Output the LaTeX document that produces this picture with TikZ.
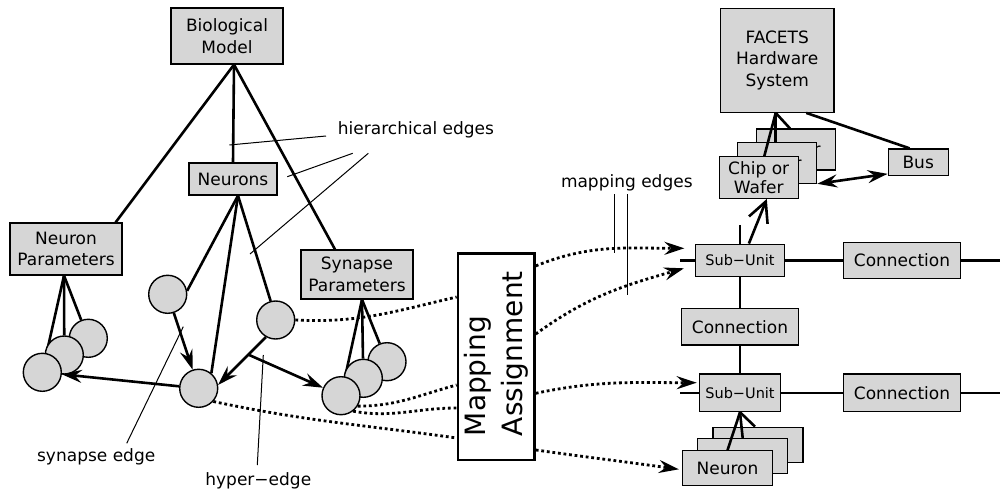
\documentclass[tikz,border=0pt]{standalone}
\usepackage{fontspec}
\setmainfont{DejaVu Sans}
\usetikzlibrary{arrows.meta,calc}
\pgfdeclarelayer{under}
\pgfsetlayers{under,main}
\definecolor{boxgray}{RGB}{214,214,214}
\begin{document}
\begin{tikzpicture}[x=1pt,y=1pt,
  box/.style={draw, line width=1.2pt, fill=boxgray, inner sep=0pt, align=center,
    font=\fontsize{17}{21.5}\selectfont},
  smallbox/.style={box, font=\fontsize{14.5}{17}\selectfont},
  chipbox/.style={box, minimum width=79pt, minimum height=41pt, font=\fontsize{17}{19.5}\selectfont},
  hidden text/.style={label={[font=\fontsize{17}{19.5}\selectfont, align=center, xshift=-6pt, yshift=-9.5pt]center:#1}},
  neuronbox/.style={box, minimum width=90pt, minimum height=35pt},
  nodecirc/.style={circle, draw, line width=1.4pt, fill=boxgray, minimum size=38pt, inner sep=0pt},
  lbl/.style={font=\fontsize{17}{20}\selectfont, inner sep=0pt},
  tree/.style={line width=2.6pt},
  gridline/.style={line width=2.3pt},
  leader/.style={line width=1pt},
  tip/.style={-{Stealth[length=20pt,width=13pt,inset=7pt]}},
  syn/.style={tree, tip},
  mapedge/.style={line width=2.8pt, dash pattern=on 2.8pt off 2.8pt},
]
\useasboundingbox (0,0) rectangle (1000,-494);
\begin{pgfonlayer}{under}
  \fill[white] (0,0) rectangle (1000,-494);
\end{pgfonlayer}

% ---------- biological model ----------
\node[box, minimum width=112pt, minimum height=56pt] (bm) at (227,-36) {Biological\\Model};
\node[box, minimum width=88pt, minimum height=32pt] (neu) at (233,-179) {Neurons};
\node[box, minimum width=112pt, minimum height=52pt] (np) at (66,-249) {Neuron\\Parameters};
\node[box, minimum width=112pt, minimum height=49pt] (sp) at (357,-274.5) {Synapse\\Parameters};

\node[nodecirc] (L3) at (88.3,-338.3) {};
\node[nodecirc] (L2) at (64.3,-355) {};
\node[nodecirc] (L1) at (42.3,-372.3) {};
\node[nodecirc] (cA) at (167.7,-294.3) {};
\node[nodecirc] (cB) at (275.7,-320) {};
\node[nodecirc] (cC) at (198.7,-388.3) {};
\node[nodecirc] (R3) at (387,-361.7) {};
\node[nodecirc] (R2) at (363.3,-378.3) {};
\node[nodecirc] (R1) at (341,-395.7) {};

\coordinate (bmfoot) at ([xshift=7]bm.south);
\coordinate (nfoot) at ([xshift=5]neu.south);
\coordinate (npfoot) at ([xshift=-2]np.south);
\coordinate (spfoot) at ([xshift=5]sp.south);

\begin{pgfonlayer}{under}
  \draw[tree] (bmfoot) -- ([xshift=-7]np.north east);
  \draw[tree] (bmfoot) -- (neu.north);
  \draw[tree] (bmfoot) -- ([xshift=-22]sp.north);
  \draw[tree] (nfoot) -- (cA.10);
  \draw[tree] (nfoot) -- (cC.50);
  \draw[tree] (nfoot) -- (cB.105);
  \draw[tree] (npfoot) -- (L1);
  \draw[tree] (npfoot) -- (L2);
  \draw[tree] (npfoot) -- (L3);
  \draw[tree] (spfoot) -- (R1);
  \draw[tree] (spfoot) -- (R2);
  \draw[tree] (spfoot) -- (R3);
\end{pgfonlayer}

% synapse edges and the hyper-edge
\draw[syn] (cA) -- (cC);
\draw[syn] (cC) -- (L1);
\draw[syn] (cB.240) -- (cC.10);
\coordinate (hyp) at ($(cB.240)!0.367!(cC.10)$);
\draw[syn] (hyp) -- (R1);

% labels with their leader lines
\node[lbl] (hlab) at (416,-130) {hierarchical edges};
\coordinate (h1a) at (326,-136);     \coordinate (h1b) at (229.3,-145);
\coordinate (h2a) at (352.7,-153.3); \coordinate (h2b) at (287.3,-176.7);
\coordinate (h3a) at (368.3,-153.3); \coordinate (h3b) at (250,-254);
\draw[leader] (h1a) -- (h1b);
\draw[leader] (h2a) -- (h2b);
\draw[leader] (h3a) -- (h3b);

\node[lbl] (slab) at (96.2,-456.7) {synapse edge};
\coordinate (s1a) at (126.7,-443.3); \coordinate (s1b) at (183.3,-326.7);
\draw[leader] (s1a) -- (s1b);

\node[lbl] (yhlab) at (258.3,-480.7) {hyper−edge};
\coordinate (y1a) at (257.3,-465); \coordinate (y1b) at (263.3,-355);
\draw[leader] (y1a) -- (y1b);

% ---------- mapping ----------
\node[draw, line width=2.4pt, fill=white, minimum width=76.7pt, minimum height=206.7pt, inner sep=0pt]
  (map) at (496.2,-356.7) {};
\node[rotate=90, align=left, inner sep=0pt, font=\fontsize{28}{37.5}\selectfont]
  (maptext) at ([yshift=3]map.center) {Mapping\\Assignment};

% ---------- hardware ----------
\node[box, minimum width=113.5pt, minimum height=104pt] (fh) at (777.2,-60.3) {FACETS\\Hardware\\System};
\node[chipbox, hidden text={Chip or\\Wafer}] (chb) at (796.2,-149.6) {};
\node[chipbox, hidden text={Chip or\\Wafer}] (chm) at (777.2,-163.3) {};
\node[chipbox, minimum height=41.6pt] (chf) at (758.7,-177.5) {Chip or\\Wafer};
\node[box, minimum width=60pt, minimum height=26.7pt] (bus) at (918.2,-162.3) {Bus};

\node[smallbox, minimum width=89.2pt, minimum height=32.7pt] (su1) at (740,-260.5) {Sub−Unit};
\node[box, minimum width=116.8pt, minimum height=36.7pt] (cr1) at (902,-260.5) {Connection};
\node[box, minimum width=116.4pt, minimum height=36.7pt] (cnm) at (740,-326.7) {Connection};
\node[smallbox, minimum width=80.4pt, minimum height=37.7pt] (su2) at (740,-392.8) {Sub−Unit};
\node[box, minimum width=116.8pt, minimum height=37.7pt] (cr2) at (902,-392.8) {Connection};

\node[neuronbox] (nrb) at (758,-444.7) {};
\node[neuronbox] (nrm) at (742.7,-456.3) {};
\node[neuronbox] (nrf) at (727.5,-468.3) {Neuron};

% connection grid
\coordinate (g1l) at (680,-260.5);   \coordinate (g1r) at (1000,-260.5);
\coordinate (g2l) at (680,-392.8);   \coordinate (g2r) at (1000,-392.8);
\coordinate (gtop) at (740,-225);
\draw[gridline] (g1l) -- (su1);
\draw[gridline] (su1) -- (cr1);
\draw[gridline] (cr1) -- (g1r);
\draw[gridline] (g2l) -- (su2);
\draw[gridline] (su2) -- (cr2);
\draw[gridline] (cr2) -- (g2r);
\draw[gridline] (gtop) -- (su1);
\draw[gridline] (su1) -- (cnm);
\draw[gridline] (cnm) -- (su2);

% hierarchy of the hardware
\coordinate (ffoot) at ([xshift=-1.5]fh.south);
\draw[tree] (ffoot) -- ([xshift=5.6]chf.north);
\draw[tree] (ffoot) -- ([xshift=-1.5]chm.north);
\draw[tree] (ffoot) -- ([xshift=-6.2]chb.north);
\draw[tree] ([xshift=29]fh.south) -- ([xshift=-8.6]bus.north);
\draw[tree, {Stealth[length=20pt,width=13pt,inset=7pt]}-{Stealth[length=20pt,width=13pt,inset=7pt]}]
  ([yshift=0.6]chm.south east) -- ([yshift=2.4]bus.south west);
\draw[tree, -{Straight Barb[length=20pt,width=20pt]}] ([xshift=8.9]su1.north) -- ([xshift=8.1]chf.south);

\draw[tree] (su2.south) -- (nrf.north);
\draw[tree] (su2.south) -- (nrm.north);
\draw[tree] (su2.south) -- ([xshift=-3]nrb.north);

% ---------- mapping edges ----------
\draw[mapedge] (cB.east) to[out=-3, in=193] ([yshift=59.7]map.west);
\draw[mapedge] (R1.-32) to[out=0, in=195] ([yshift=-28.3]map.west);
\draw[mapedge] (R1.-52) to[out=-10, in=180] ([yshift=-51.3]map.west);
\draw[mapedge] (cC.-42) to[out=-12, in=172] ([yshift=-81.3]map.west);

\draw[mapedge, tip] ([yshift=90.8]map.east) to[out=22, in=180] ([xshift=-10.4,yshift=12.2]su1.west);
\draw[mapedge, tip] ([yshift=22.7]map.east) to[out=36, in=196] ([xshift=-10.9,yshift=-7.8]su1.west);
\draw[mapedge, tip] ([yshift=-36.6]map.east) to[out=12, in=180] ([xshift=-2.5,yshift=10.1]su2.west);
\draw[mapedge, tip] ([yshift=-93.3]map.east) to[out=-8, in=172] ([xshift=-3,yshift=-1]nrf.west);

\node[lbl] (mlab) at (626.8,-183.3) {mapping edges};
\coordinate (m1a) at (614,-194.3);   \coordinate (m1b) at (614,-253.3);
\coordinate (m2a) at (627.7,-194.3); \coordinate (m2b) at (627.7,-295);
\draw[leader] (m1a) -- (m1b);
\draw[leader] (m2a) -- (m2b);
\end{tikzpicture}
\end{document}
